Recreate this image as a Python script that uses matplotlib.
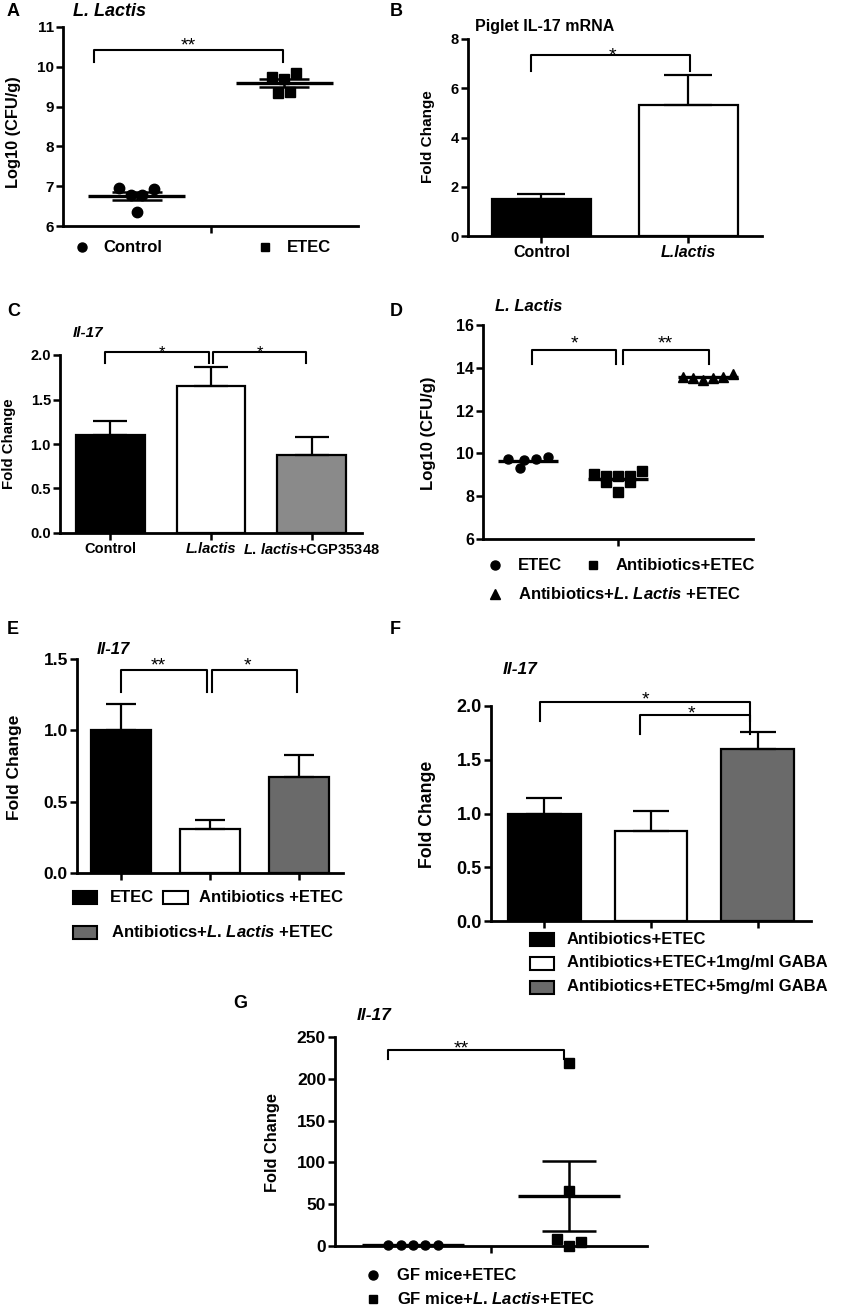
import numpy as np
import matplotlib
matplotlib.use('Agg')
import matplotlib.pyplot as plt
from matplotlib.lines import Line2D
from matplotlib.patches import Rectangle

plt.rcParams['font.family'] = ['Liberation Sans', 'DejaVu Sans']
plt.rcParams['font.weight'] = 'bold'
plt.rcParams['axes.labelweight'] = 'bold'
plt.rcParams['mathtext.fontset'] = 'custom'
plt.rcParams['mathtext.rm'] = 'Liberation Sans:bold'
plt.rcParams['mathtext.it'] = 'Liberation Sans:bold:italic'
plt.rcParams['mathtext.bf'] = 'Liberation Sans:bold'

# ---- data ----
# A: L. Lactis counts, piglets
a_control = [6.95, 6.78, 6.34, 6.78, 6.93]
a_etec = [9.74, 9.33, 9.69, 9.37, 9.84]
a_ctrl_off = [-0.12, -0.04, 0.0, 0.035, 0.12]
a_etec_off = [-0.08, -0.04, 0.0, 0.04, 0.08]

# B: piglet IL-17 mRNA
b_labels = ['Control', 'L.lactis']
b_mean = [1.50, 5.33]
b_sem = [0.22, 1.19]

# C: Il-17
c_labels = ['Control', 'L.lactis', r'$\it{L}$. $\it{lactis}$+CGP35348']
c_mean = [1.10, 1.655, 0.88]
c_sem = [0.16, 0.205, 0.20]

# D: L. Lactis counts, mice
d_etec = [9.75, 9.33, 9.68, 9.74, 9.84]
d_abx = [9.02, 8.94, 8.68, 8.93, 8.21, 8.94, 8.68, 9.17]
d_abx_ll = [13.59, 13.50, 13.43, 13.52, 13.55, 13.72]
d_etec_off = [-0.22, -0.09, -0.04, 0.09, 0.22]
d_abx_off = [-0.27, -0.13, -0.13, 0.0, 0.0, 0.13, 0.13, 0.27]
d_abx_ll_off = [-0.28, -0.17, -0.06, 0.06, 0.17, 0.28]

# E: Il-17
e_labels = ['ETEC', 'Antibiotics +ETEC', r'Antibiotics+$\it{L}$. $\it{Lactis}$ +ETEC']
e_mean = [1.00, 0.31, 0.67]
e_sem = [0.187, 0.06, 0.16]

# F: Il-17 with GABA
f_labels = ['Antibiotics+ETEC', 'Antibiotics+ETEC+1mg/ml GABA', 'Antibiotics+ETEC+5mg/ml GABA']
f_mean = [1.00, 0.835, 1.60]
f_sem = [0.14, 0.185, 0.158]

# G: Il-17 in GF mice
g_gf = [0.8, 1.1, 1.0, 1.2, 0.9]
g_gf_ll = [8.0, 219.0, 66.0, 0.5, 4.5]
g_gf_off = [-0.16, -0.08, 0.0, 0.08, 0.16]
g_gf_ll_off = [-0.08, 0.0, 0.0, 0.0, 0.08]

W, H = 842, 1309
fig = plt.figure(figsize=(W / 100, H / 100), dpi=100)


def px_axes(l, t, r, b):
    ax = fig.add_axes([l / W, 1 - b / H, (r - l) / W, (b - t) / H])
    for s in ['top', 'right']:
        ax.spines[s].set_visible(False)
    for s in ['left', 'bottom']:
        ax.spines[s].set_linewidth(2.0)
    ax.tick_params(direction='out', length=5, width=1.8, pad=1.5)
    return ax


def ftext(x, y, s, **kw):
    fig.text(x / W, 1 - y / H, s, **kw)


def bracket(ax, x1, x2, top, bottom, sx, sy, stars, size=14):
    ax.plot([x1, x1, x2, x2], [bottom, top, top, bottom], color='black', lw=1.5, clip_on=False)
    ax.annotate(stars, (sx, sy), xytext=(0, -0.22 * size), textcoords='offset points',
                ha='center', va='center', fontsize=size, fontweight='normal', annotation_clip=False)


def dot_group(ax, x, vals, offs, marker, ms, sem=True, half=0.33):
    vals = np.asarray(vals)
    ax.plot(x + np.asarray(offs), vals, ls='none', marker=marker, color='black', ms=ms, clip_on=False, zorder=3)
    m = vals.mean()
    ax.hlines(m, x - half, x + half, color='black', lw=2.4, zorder=4)
    if sem:
        se = vals.std(ddof=1) / np.sqrt(len(vals))
        ax.hlines([m - se, m + se], x - 0.17, x + 0.17, color='black', lw=1.8, zorder=4)
        ax.vlines(x, m - se, m + se, color='black', lw=1.8, zorder=4)


def bar_panel(ax, means, sems, colors, capsize):
    x = np.arange(len(means))
    ax.bar(x, means, width=0.68, color=colors, edgecolor='black', linewidth=1.6, zorder=2)
    ax.errorbar(x, means, yerr=[np.zeros(len(sems)), sems], fmt='none', ecolor='black',
                elinewidth=1.6, capsize=capsize, capthick=1.6, zorder=3)
    ax.set_xlim(-0.5, len(means) - 0.5)
    ax.set_xticks(x)


def leg_marker(x, y, marker, text, tx, ms=6.5, size=12):
    fig.add_artist(Line2D([x / W], [1 - y / H], marker=marker, color='black', ms=ms, ls='none'))
    ftext(tx, y, text, ha='left', va='center', fontsize=size)


def leg_patch(x0, x1, y, color, text, tx, size=12):
    fig.add_artist(Rectangle((x0 / W, 1 - (y + 6.5) / H), (x1 - x0) / W, 13 / H,
                             facecolor=color, edgecolor='black', lw=1.5))
    ftext(tx, y, text, ha='left', va='center', fontsize=size)


# ---------------- A ----------------
ax = px_axes(63, 27, 358, 226)
dot_group(ax, 1, a_control, a_ctrl_off, 'o', 7.5)
dot_group(ax, 2, a_etec, a_etec_off, 's', 7)
ax.set_xlim(0.5, 2.5)
ax.set_ylim(6, 11)
ax.set_xticks([1.5])
ax.set_xticklabels([])
ax.set_yticks(range(6, 12))
ax.tick_params(labelsize=11)
bracket(ax, 0.71, 1.99, 10.42, 10.13, 1.35, 10.62, '**')
ftext(7, 12, 'A', fontsize=13, ha='left', va='center')
ftext(73, 11, 'L. Lactis', fontsize=13, style='italic', ha='left', va='center')
ftext(14, 132, 'Log10 (CFU/g)', rotation=90, ha='center', va='center', fontsize=11.8)
leg_marker(82, 247, 'o', 'Control', 103, ms=6.5)
leg_marker(265, 247, 's', 'ETEC', 287, ms=6)

# ---------------- B ----------------
ax = px_axes(468, 39, 762, 236)
bar_panel(ax, b_mean, b_sem, ['black', 'white'], 17)
ax.set_ylim(0, 8)
ax.set_yticks(range(0, 9, 2))
ax.set_xticklabels(b_labels, fontsize=11.5)
ax.get_xticklabels()[1].set_style('italic')
ax.tick_params(axis='y', labelsize=10.5)
bracket(ax, -0.07, 1.007, 7.35, 6.7, 0.483, 7.47, '*')
ftext(390, 12, 'B', fontsize=13, ha='left', va='center')
ftext(475, 27, 'Piglet IL-17 mRNA', fontsize=11.5, ha='left', va='center')
ftext(428, 137, 'Fold Change', rotation=90, ha='center', va='center', fontsize=11)

# ---------------- C ----------------
ax = px_axes(60, 355, 362, 533)
bar_panel(ax, c_mean, c_sem, ['black', 'white', '#8a8a8a'], 12.5)
ax.set_ylim(0, 2)
ax.set_yticks(np.arange(0, 2.01, 0.5))
ax.set_yticklabels([f'{v:.1f}' for v in np.arange(0, 2.01, 0.5)])
ax.set_xticklabels(c_labels, fontsize=10.5)
ax.get_xticklabels()[1].set_style('italic')
ax.tick_params(axis='y', labelsize=10.5)
bracket(ax, -0.05, 0.98, 2.03, 1.91, 0.51, 2.07, '*', 12)
bracket(ax, 1.02, 1.94, 2.03, 1.91, 1.49, 2.07, '*', 12)
ftext(7, 312, 'C', fontsize=13, ha='left', va='center')
ftext(73, 333, 'Il-17', fontsize=11, style='italic', ha='left', va='center')
ftext(9, 444, 'Fold Change', rotation=90, ha='center', va='center', fontsize=10.8)

# ---------------- D ----------------
ax = px_axes(483, 325, 753, 539)
dot_group(ax, 1, d_etec, d_etec_off, 'o', 6.5, sem=False)
dot_group(ax, 2, d_abx, d_abx_off, 's', 6.5, sem=False)
dot_group(ax, 3, d_abx_ll, d_abx_ll_off, '^', 6.5, sem=False)
ax.set_xlim(0.5, 3.5)
ax.set_ylim(6, 16)
ax.set_xticks([2])
ax.set_xticklabels([])
ax.set_yticks(range(6, 17, 2))
ax.tick_params(labelsize=11.5)
bracket(ax, 1.04, 1.98, 14.83, 14.16, 1.52, 15.3, '*')
bracket(ax, 2.05, 3.01, 14.83, 14.16, 2.52, 15.3, '**')
ftext(390, 312, 'D', fontsize=13, ha='left', va='center')
ftext(495, 307, 'L. Lactis', fontsize=12, style='italic', ha='left', va='center')
ftext(428, 433, 'Log10 (CFU/g)', rotation=90, ha='center', va='center', fontsize=12)
leg_marker(495, 565, 'o', 'ETEC', 518)
leg_marker(593, 565, 's', 'Antibiotics+ETEC', 616, ms=6)
leg_marker(495, 594, '^', r'Antibiotics+$\it{L}$. $\it{Lactis}$ +ETEC', 518)

# ---------------- E ----------------
e_colors = ['black', 'white', '#6a6a6a']
ax = px_axes(77, 659, 343, 873)
bar_panel(ax, e_mean, e_sem, e_colors, 10.5)
ax.set_ylim(0, 1.5)
ax.set_yticks(np.arange(0, 1.51, 0.5))
ax.set_yticklabels([f'{v:.1f}' for v in np.arange(0, 1.51, 0.5)])
ax.set_xticklabels([])
ax.tick_params(axis='y', labelsize=12.5)
bracket(ax, 0.0, 0.97, 1.42, 1.266, 0.42, 1.48, '**')
bracket(ax, 1.02, 1.985, 1.42, 1.266, 1.42, 1.48, '*')
ftext(7, 629, 'E', fontsize=13, ha='left', va='center')
ftext(97, 650, 'Il-17', fontsize=12, style='italic', ha='left', va='center')
ftext(15, 767, 'Fold Change', rotation=90, ha='center', va='center', fontsize=12.5)
leg_patch(73, 97, 897, e_colors[0], e_labels[0], 110)
leg_patch(163, 188, 897, e_colors[1], e_labels[1], 199)
leg_patch(73, 97, 932, e_colors[2], e_labels[2], 111)

# ---------------- F ----------------
f_colors = ['black', 'white', '#6a6a6a']
ax = px_axes(491, 706, 811, 921)
bar_panel(ax, f_mean, f_sem, f_colors, 12.8)
ax.set_ylim(0, 2)
ax.set_yticks(np.arange(0, 2.01, 0.5))
ax.set_yticklabels([f'{v:.1f}' for v in np.arange(0, 2.01, 0.5)])
ax.set_xticklabels([])
ax.tick_params(axis='y', labelsize=13)
bracket(ax, -0.04, 1.93, 2.04, 1.863, 0.95, 2.10, '*')
bracket(ax, 0.893, 1.93, 1.913, 1.736, 1.38, 1.97, '*')
ftext(390, 629, 'F', fontsize=13, ha='left', va='center')
ftext(503, 669, 'Il-17', fontsize=12.5, style='italic', ha='left', va='center')
ftext(428, 814, 'Fold Change', rotation=90, ha='center', va='center', fontsize=12.7)
for i, yy in enumerate([939, 963, 987]):
    leg_patch(530, 554, yy, f_colors[i], f_labels[i], 567)

# ---------------- G ----------------
ax = px_axes(335, 1037, 647, 1246)
dot_group(ax, 1, g_gf, g_gf_off, 'o', 6.5)
dot_group(ax, 2, g_gf_ll, g_gf_ll_off, 's', 6.5)
ax.set_xlim(0.5, 2.5)
ax.set_ylim(0, 250)
ax.set_xticks([1.5])
ax.set_xticklabels([])
ax.set_yticks(range(0, 251, 50))
ax.tick_params(labelsize=12.5)
bracket(ax, 0.84, 1.968, 234.8, 224, 1.31, 241, '**')
ftext(233, 1003, 'G', fontsize=13, ha='left', va='center')
ftext(357, 1016, 'Il-17', fontsize=12.5, style='italic', ha='left', va='center')
ftext(272, 1143, 'Fold Change', rotation=90, ha='center', va='center', fontsize=11.8)
leg_marker(373, 1275, 'o', 'GF mice+ETEC', 397)
leg_marker(373, 1299, 's', r'GF mice+$\it{L}$. $\it{Lactis}$+ETEC', 397, ms=6)

fig.savefig('out.png', dpi=100)
